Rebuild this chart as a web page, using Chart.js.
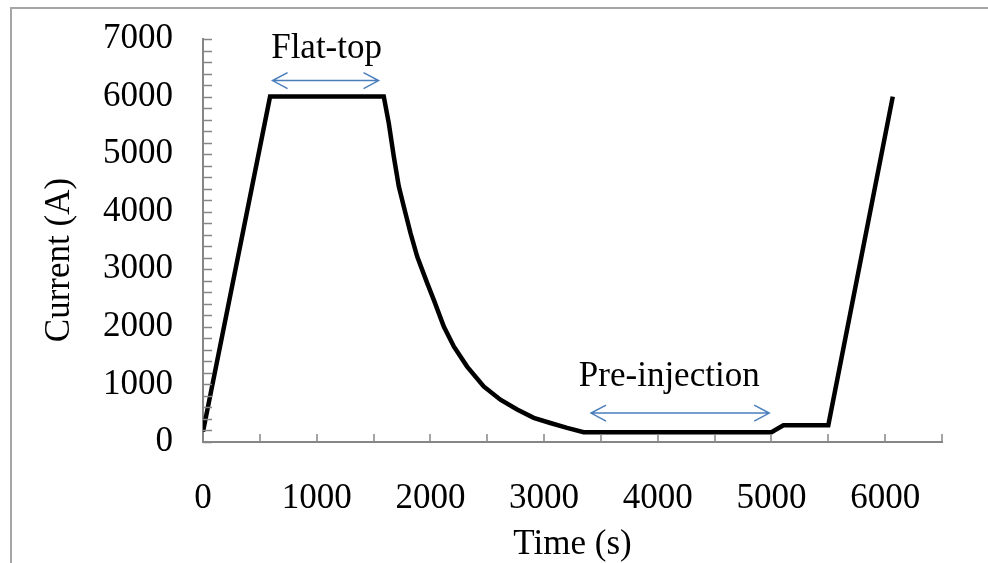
<!DOCTYPE html>
<html>
<head>
<meta charset="utf-8">
<script src="https://cdn.jsdelivr.net/npm/chart.js@4.4.1/dist/chart.umd.min.js"></script>
<style>
    body { margin: 0; background: #fff; }
    #wrap { position: relative; width: 988px; height: 563px; overflow: hidden; }
    #frame { position: absolute; left: 10px; top: 7px; width: 1100px; height: 700px; border: 2px solid #a6a6a6; }
    canvas { position: absolute; left: 0; top: 0; }
</style>
</head>
<body>
<div id="wrap">
    <div id="frame"></div>
    <canvas id="myChart" width="988" height="563"></canvas>
</div>
<script>
// time (s) and magnet current (A)
const time = [0, 590, 1590, 1634, 1678, 1722, 1766, 1825, 1884, 1972, 2030, 2118, 2206, 2323,
    2469, 2616, 2763, 2909, 3055, 3202, 3348, 5000, 5105, 5500, 6067];
const current = [180, 6000, 6000, 5540, 4960, 4440, 4090, 3630, 3220, 2760, 2470, 2005, 1660, 1310,
    965, 735, 565, 420, 330, 245, 170, 170, 290, 290, 6000];

// phase annotations (data coordinates)
const noteText = ['Flat-top', 'Pre-injection'];
const noteX = [1087, 4101];
const noteY = [6672, 977];
const arrowFrom = [612, 3413];
const arrowTo = [1544, 4980];
const arrowY = [6278, 503];

const xTitle = 'Time (s)';
const yTitle = 'Current (A)';

const serif = "'Times New Roman', 'Liberation Serif', serif";
const axisColor = '#868686';

const annotations = {
    id: 'annotations',
    afterDraw(chart) {
        const ctx = chart.ctx;
        const xs = chart.scales.x;
        const ys = chart.scales.y;
        ctx.save();

        // inward tick marks
        ctx.strokeStyle = axisColor;
        ctx.lineWidth = 1.5;
        const ax = ys.getPixelForValue(0);
        xs.ticks.forEach(t => {
            const px = Math.round(xs.getPixelForValue(t.value));
            ctx.beginPath();
            ctx.moveTo(px, ax);
            ctx.lineTo(px, ax - 8);
            ctx.stroke();
        });
        const ay = xs.getPixelForValue(0);
        ys.ticks.forEach(t => {
            const py = Math.round(ys.getPixelForValue(t.value)) + 0.5;
            ctx.beginPath();
            ctx.moveTo(ay, py);
            ctx.lineTo(ay + 9, py);
            ctx.stroke();
        });

        // arrows
        ctx.strokeStyle = '#4a7ebb';
        ctx.lineWidth = 1.5;
        for (let i = 0; i < arrowFrom.length; i++) {
            const x1 = xs.getPixelForValue(arrowFrom[i]);
            const x2 = xs.getPixelForValue(arrowTo[i]);
            const y = ys.getPixelForValue(arrowY[i]);
            ctx.beginPath();
            ctx.moveTo(x1, y);
            ctx.lineTo(x2, y);
            ctx.moveTo(x1 + 15, y - 8);
            ctx.lineTo(x1, y);
            ctx.lineTo(x1 + 15, y + 8);
            ctx.moveTo(x2 - 15, y - 8);
            ctx.lineTo(x2, y);
            ctx.lineTo(x2 - 15, y + 8);
            ctx.stroke();
        }

        // labels
        ctx.fillStyle = '#000';
        ctx.font = '35px ' + serif;
        ctx.textAlign = 'center';
        ctx.textBaseline = 'alphabetic';
        for (let i = 0; i < noteText.length; i++) {
            ctx.fillText(noteText[i], xs.getPixelForValue(noteX[i]), ys.getPixelForValue(noteY[i]));
        }

        // y axis title
        ctx.translate(69, 260);
        ctx.rotate(-Math.PI / 2);
        ctx.fillText(yTitle, 0, 0);
        ctx.restore();
    }
};

const ctx = document.getElementById('myChart').getContext('2d');
new Chart(ctx, {
    type: 'line',
    data: {
        datasets: [{
            data: time.map((t, i) => ({ x: t, y: current[i] })),
            borderColor: '#000',
            borderWidth: 4.5,
            pointRadius: 0,
            tension: 0,
            fill: false
        }]
    },
    options: {
        responsive: false,
        animation: false,
        layout: { padding: { left: 0, top: 39, right: 46, bottom: 0 } },
        plugins: {
            legend: { display: false },
            tooltip: { enabled: false }
        },
        scales: {
            x: {
                type: 'linear',
                min: 0,
                max: 6500,
                grid: { display: false, drawTicks: false },
                border: { color: axisColor, width: 2 },
                ticks: {
                    stepSize: 500,
                    autoSkip: false,
                    maxRotation: 0,
                    padding: 36,
                    color: '#000',
                    font: { family: serif, size: 35 },
                    callback: v => (v % 1000 === 0 ? v : '')
                },
                title: {
                    display: true,
                    text: xTitle,
                    color: '#000',
                    font: { family: serif, size: 35, lineHeight: 1 },
                    padding: { top: 0, bottom: 1 }
                },
                afterFit: s => {
                    s.height = 121;
                    s.paddingLeft = 0;
                    s.paddingRight = 0;
                }
            },
            y: {
                min: 0,
                max: 7000,
                grid: { display: false, drawTicks: false },
                border: { color: axisColor, width: 2 },
                ticks: {
                    stepSize: 200,
                    autoSkip: false,
                    padding: 30,
                    color: '#000',
                    font: { family: serif, size: 35 },
                    callback: v => (v % 1000 === 0 ? v : '')
                },
                afterFit: s => {
                    s.width = 203;
                    s.paddingTop = 0;
                    s.paddingBottom = 0;
                }
            }
        }
    },
    plugins: [annotations]
});
</script>
</body>
</html>
